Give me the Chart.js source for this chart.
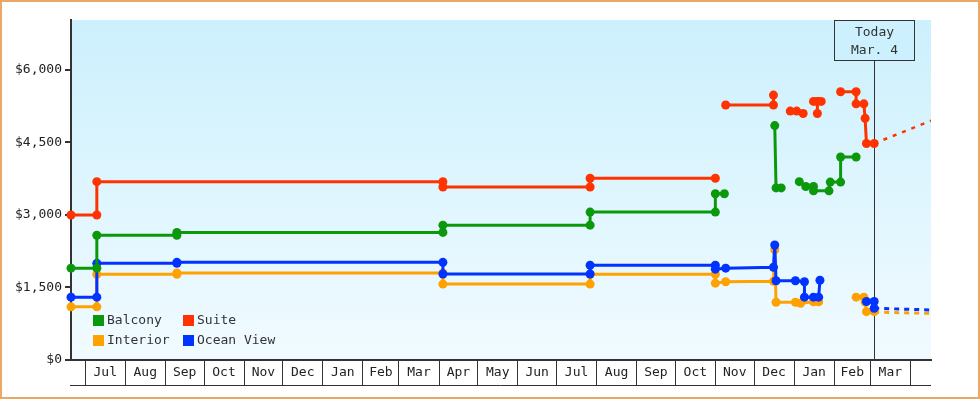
<!DOCTYPE html>
<html>
<head>
<meta charset="utf-8">
<script src="https://cdn.jsdelivr.net/npm/chart.js@4.4.1/dist/chart.umd.min.js"></script>
<style>
    html, body { margin: 0; padding: 0; background: #fff; }
    #wrap { width: 980px; height: 400px; position: relative; }
</style>
</head>
<body>
<div id="wrap"><canvas id="myChart"></canvas></div>
<script>
// Month cells along the bottom axis
const monthLabels = ['Jul', 'Aug', 'Sep', 'Oct', 'Nov', 'Dec', 'Jan', 'Feb', 'Mar', 'Apr', 'May', 'Jun',
    'Jul', 'Aug', 'Sep', 'Oct', 'Nov', 'Dec', 'Jan', 'Feb', 'Mar'];
const monthStarts = ['2013-07-01', '2013-08-01', '2013-09-01', '2013-10-01', '2013-11-01', '2013-12-01',
    '2014-01-01', '2014-02-01', '2014-03-01', '2014-04-01', '2014-05-01', '2014-06-01', '2014-07-01',
    '2014-08-01', '2014-09-01', '2014-10-01', '2014-11-01', '2014-12-01', '2015-01-01', '2015-02-01',
    '2015-03-01', '2015-04-01'];
const yTicks = [0, 1500, 3000, 4500, 6000];

const xMin = '2013-06-20';
const xMax = '2015-04-17';
const today = '2015-03-04';
const todayLines = ['Today', 'Mar. 4'];

// Price history, null = no data
const balconyDates = ['2013-06-20', '2013-07-10', '2013-07-10', '2013-09-10', '2013-09-10', '2014-04-04',
    '2014-04-04', '2014-07-27', '2014-07-27', '2014-11-01', '2014-11-01', '2014-11-08', '2014-11-08',
    '2014-12-17', '2014-12-18', '2014-12-22', '2014-12-22', '2015-01-05', '2015-01-10', '2015-01-16',
    '2015-01-16', '2015-01-28', '2015-01-29', '2015-02-06', '2015-02-06', '2015-02-18'];
const balconyPrices = [1900, 1900, 2580, 2580, 2640, 2640, 2790, 2790, 3060, 3060, 3440, 3440, null,
    4850, 3560, 3560, null, 3690, 3590, 3590, 3500, 3500, 3680, 3680, 4200, 4200];

const suiteDates = ['2013-06-20', '2013-07-10', '2013-07-10', '2014-04-04', '2014-04-04', '2014-07-27',
    '2014-07-27', '2014-11-01', '2014-11-01', '2014-11-09', '2014-12-16', '2014-12-16', '2014-12-16',
    '2014-12-29', '2015-01-03', '2015-01-08', '2015-01-08', '2015-01-16', '2015-01-19', '2015-01-19',
    '2015-01-19', '2015-01-22', '2015-01-22', '2015-02-06', '2015-02-18', '2015-02-18', '2015-02-24',
    '2015-02-25', '2015-02-26', '2015-03-04'];
const suitePrices = [3000, 3000, 3690, 3690, 3580, 3580, 3760, 3760, null, 5275, 5275, 5480, null,
    5150, 5150, 5100, null, 5350, 5350, 5100, 5350, 5350, null, 5550, 5550, 5300, 5300,
    5000, 4480, 4480];

const interiorDates = ['2013-06-20', '2013-07-10', '2013-07-10', '2013-09-10', '2013-09-10', '2014-04-04',
    '2014-04-04', '2014-07-27', '2014-07-27', '2014-11-01', '2014-11-01', '2014-11-09', '2014-12-16',
    '2014-12-17', '2014-12-18', '2015-01-02', '2015-01-06', '2015-01-16', '2015-01-20', '2015-01-20',
    '2015-02-18', '2015-02-24', '2015-02-25', '2015-02-26', '2015-03-04'];
const interiorPrices = [1100, 1100, 1775, 1775, 1800, 1800, 1570, 1570, 1775, 1775, 1590, 1620, 1630,
    2280, 1195, 1195, 1175, 1205, 1205, null, 1300, 1300, 1200, 1000, 1000];

const oceanDates = ['2013-06-20', '2013-07-10', '2013-07-10', '2013-09-10', '2013-09-10', '2014-04-04',
    '2014-04-04', '2014-07-27', '2014-07-27', '2014-11-01', '2014-11-01', '2014-11-09', '2014-12-16',
    '2014-12-17', '2014-12-18', '2015-01-02', '2015-01-09', '2015-01-09', '2015-01-16', '2015-01-20',
    '2015-01-21', '2015-01-21', '2015-02-26', '2015-03-04', '2015-03-04'];
const oceanPrices = [1300, 1300, 2000, 2000, 2020, 2020, 1780, 1780, 1960, 1960, 1880, 1900, 1920,
    2380, 1640, 1640, 1620, 1300, 1300, 1300, 1650, null, 1210, 1210, 1070];

// Forecast from today to the end of the axis
const trendDates = ['2015-03-04', '2015-04-17'];
const suiteTrend = [4480, 4950];
const oceanTrend = [1070, 1035];
const interiorTrend = [990, 965];

const colors = {
    balcony: '#0b990b',
    suite: '#ff3300',
    interior: '#ffa200',
    ocean: '#0033ff'
};
const fontFamily = '"DejaVu Sans Mono", monospace';

const DAY = 86400000;
function toDay(s) {
    return Date.UTC(+s.slice(0, 4), +s.slice(5, 7) - 1, +s.slice(8, 10)) / DAY;
}

function series(dates, prices) {
    return dates.map((d, i) => ({ x: toDay(d), y: prices[i] }));
}

// month boundaries get a separator line, month middles get the label
const boundaries = monthStarts.map(toDay);
const boundarySet = new Set(boundaries);
const midLabels = new Map();
for (let i = 0; i < monthLabels.length; i++) {
    midLabels.set((boundaries[i] + boundaries[i + 1]) / 2, monthLabels[i]);
}

function priceSet(label, dates, prices, color, order) {
    return {
        label: label,
        data: series(dates, prices),
        borderColor: color,
        backgroundColor: color,
        borderWidth: 3,
        pointRadius: 4.5,
        pointBorderWidth: 0,
        pointBackgroundColor: color,
        spanGaps: false,
        clip: false,
        order: order
    };
}

function trendSet(label, values, color, dash, width) {
    return {
        label: label,
        data: series(trendDates, values),
        borderColor: color,
        borderWidth: width,
        borderDash: dash,
        pointRadius: 0,
        order: 10
    };
}

const fmtMoney = v => '$' + String(v).replace(/\B(?=(\d{3})+(?!\d))/g, ',');

// background, frame, today marker, month boxes and legend
const decorPlugin = {
    id: 'decor',
    beforeDraw(chart) {
        const { ctx, chartArea: a } = chart;
        ctx.save();
        ctx.fillStyle = '#fff';
        ctx.fillRect(0, 0, chart.width, chart.height);
        const g = ctx.createLinearGradient(0, a.top, 0, a.bottom);
        g.addColorStop(0, '#ccf0fd');
        g.addColorStop(1, '#f1fbff');
        ctx.fillStyle = g;
        ctx.fillRect(a.left, a.top, a.right - a.left, a.bottom - a.top);
        ctx.strokeStyle = '#eaa866';
        ctx.lineWidth = 2;
        ctx.strokeRect(1, 1, chart.width - 2, chart.height - 3);
        ctx.restore();
    },
    beforeDatasetsDraw(chart) {
        const { ctx, chartArea: a, scales } = chart;
        const x = Math.round(scales.x.getPixelForValue(toDay(today))) + 0.5;
        const boxW = 80, boxH = 40;
        ctx.save();
        ctx.strokeStyle = '#333';
        ctx.lineWidth = 1;
        ctx.beginPath();
        ctx.moveTo(x, a.top + boxH);
        ctx.lineTo(x, a.bottom);
        ctx.stroke();
        ctx.fillStyle = '#ccf0fd';
        ctx.fillRect(x - boxW / 2, a.top, boxW, boxH);
        ctx.strokeRect(x - boxW / 2, a.top + 0.5, boxW, boxH);
        ctx.fillStyle = '#333';
        ctx.font = '13px ' + fontFamily;
        ctx.textAlign = 'center';
        ctx.textBaseline = 'middle';
        ctx.fillText(todayLines[0], x, a.top + 13);
        ctx.fillText(todayLines[1], x, a.top + 31);
        ctx.restore();
    },
    afterDraw(chart) {
        const { ctx, chartArea: a } = chart;
        ctx.save();
        // bottom edge of the month boxes
        ctx.strokeStyle = '#333';
        ctx.lineWidth = 1;
        ctx.beginPath();
        ctx.moveTo(a.left - 1, a.bottom + 25.5);
        ctx.lineTo(a.right, a.bottom + 25.5);
        ctx.stroke();

        // legend inside the plot, two columns
        const items = [0, 1, 2, 3].map(i => chart.data.datasets[i]);
        ctx.font = '13px ' + fontFamily;
        ctx.textBaseline = 'middle';
        ctx.textAlign = 'left';
        items.forEach((ds, i) => {
            const lx = a.left + 22 + (i % 2) * 90;
            const ly = a.bottom - 45 + Math.floor(i / 2) * 20;
            ctx.fillStyle = ds.borderColor;
            ctx.fillRect(lx, ly, 11, 11);
            ctx.fillStyle = '#333';
            ctx.fillText(ds.label, lx + 14, ly + 6);
        });
        ctx.restore();
    }
};

const tickColor = c => (c.tick && boundarySet.has(c.tick.value)) ? '#333' : 'rgba(0,0,0,0)';

new Chart(document.getElementById('myChart'), {
    type: 'line',
    data: {
        datasets: [
            priceSet('Balcony', balconyDates, balconyPrices, colors.balcony, 0),
            priceSet('Suite', suiteDates, suitePrices, colors.suite, 1),
            priceSet('Interior', interiorDates, interiorPrices, colors.interior, 3),
            priceSet('Ocean View', oceanDates, oceanPrices, colors.ocean, 2),
            trendSet('Suite trend', suiteTrend, colors.suite, [4, 6], 2.5),
            trendSet('Ocean View trend', oceanTrend, colors.ocean, [5, 5], 3),
            trendSet('Interior trend', interiorTrend, colors.interior, [5, 5], 3)
        ]
    },
    options: {
        responsive: true,
        maintainAspectRatio: false,
        animation: false,
        events: [],
        layout: { padding: { left: 0, top: 20, right: 49, bottom: 0 } },
        elements: { line: { tension: 0 } },
        plugins: {
            legend: { display: false },
            tooltip: { enabled: false }
        },
        scales: {
            x: {
                type: 'linear',
                min: toDay(xMin),
                max: toDay(xMax),
                afterBuildTicks: scale => {
                    const t = boundaries.concat([...midLabels.keys()]).sort((p, q) => p - q);
                    scale.ticks = t.map(v => ({ value: v }));
                },
                afterFit: scale => { scale.height = 40; },
                grid: {
                    drawOnChartArea: false,
                    tickLength: 25,
                    lineWidth: 1,
                    color: tickColor,
                    tickColor: tickColor
                },
                border: { display: true, color: '#333', width: 2 },
                ticks: {
                    autoSkip: false,
                    maxRotation: 0,
                    padding: -20,
                    color: '#222',
                    font: { family: fontFamily, size: 13 },
                    callback: v => midLabels.get(v) || ''
                }
            },
            y: {
                min: 0,
                max: 7034,
                afterBuildTicks: scale => { scale.ticks = yTicks.map(v => ({ value: v })); },
                afterFit: scale => { scale.width = 71; },
                grid: {
                    drawOnChartArea: false,
                    tickLength: 6,
                    lineWidth: 2,
                    color: '#333'
                },
                border: { display: true, color: '#333', width: 2 },
                ticks: {
                    padding: 3,
                    color: '#222',
                    font: { family: fontFamily, size: 13 },
                    callback: fmtMoney
                }
            }
        }
    },
    plugins: [decorPlugin]
});
</script>
</body>
</html>
